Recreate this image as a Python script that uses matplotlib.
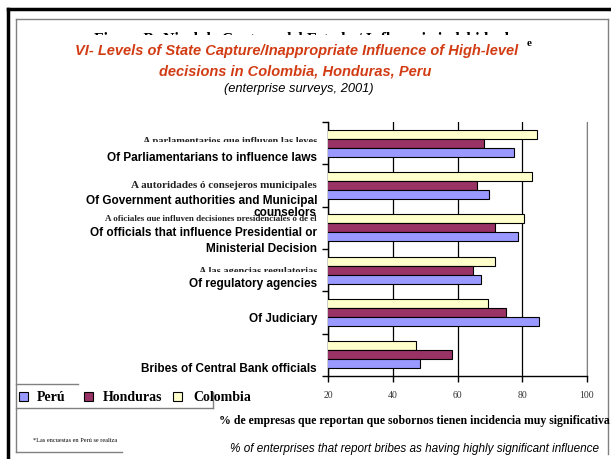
import matplotlib
matplotlib.use("Agg")
import matplotlib.pyplot as plt
from matplotlib.patches import Rectangle
from matplotlib.lines import Line2D

W, H = 611, 460

# data (top category first)
categories_en = [
    "Of Parliamentarians to influence laws",
    "Of Government authorities and Municipal\ncounselors",
    "Of officials that influence Presidential or\nMinisterial Decision",
    "Of regulatory agencies",
    "Of Judiciary",
    "Bribes of Central Bank officials",
]
categories_es = [
    "A parlamentarios que influyen las leyes",
    "A autoridades ó consejeros municipales",
    "A oficiales que influyen decisiones presidenciales ó de el",
    "A las agencias regulatorias",
    "",
    "",
]
colombia = [84.7, 82.9, 80.6, 71.6, 69.5, 47.1]
honduras = [68.2, 66.1, 71.6, 64.7, 75.0, 58.3]
peru = [77.3, 69.8, 78.7, 67.3, 85.1, 48.5]
series = ["Perú", "Honduras", "Colombia"]
colors = {"Perú": "#9999FF", "Honduras": "#993366", "Colombia": "#FFFFCC"}
xticks = [20, 40, 60, 80, 100]

fig = plt.figure(figsize=(W / 100, H / 100), dpi=100)


def fx(px):
    return px / W


def fy(py):
    return 1 - py / H


def line(x0, y0, x1, y1, color="#808080", lw=1.0):
    fig.add_artist(Line2D([fx(x0), fx(x1)], [fy(y0), fy(y1)], color=color, lw=lw,
                          transform=fig.transFigure))


# slide frames
line(8, 10, 611, 10, color="black", lw=2.5)
line(8, 10, 8, 460, color="black", lw=2.5)
line(16, 20, 608, 20)
line(16, 20, 16, 453)
line(608, 20, 608, 455)
# legend / footnote boxes
line(16, 385, 78, 385)
line(16, 409, 213, 409)
line(213, 393, 213, 409)
line(16, 453, 122, 453)

# half-hidden spanish header behind the title
hdr = fig.text(fx(305), fy(40), "Figura B: Nivel de Captura del Estado / Influencia indebida de",
               ha="center", va="center", fontsize=11.3, fontweight="bold",
               family="Liberation Serif")
hdr.set_clip_path(Rectangle((0, fy(36)), 1, 1, transform=fig.transFigure))
fig.text(fx(529), fy(43), "e", fontsize=8, fontweight="bold", family="Liberation Serif",
         ha="center", va="center")

title_kw = dict(ha="center", va="center", fontsize=10.5, fontweight="bold", style="italic",
                color="#D23C14", family="Liberation Sans")
fig.text(fx(297), fy(51), "VI- Levels of State Capture/Inappropriate Influence of High-level", **title_kw)
fig.text(fx(295), fy(72), "decisions in Colombia, Honduras, Peru", **title_kw)
fig.text(fx(299), fy(89), "(enterprise surveys, 2001)", ha="center", va="center", fontsize=9.3,
         style="italic", family="Liberation Sans")

# axes
ax = fig.add_axes([fx(328), fy(377), fx(587) - fx(328), fy(123) - fy(377)])
h = 0.213
ypos = list(range(len(categories_en)))
ax.barh([y - h for y in ypos], colombia, height=h, color=colors["Colombia"],
        edgecolor="black", linewidth=0.8, zorder=3)
ax.barh(ypos, honduras, height=h, color=colors["Honduras"], edgecolor="black",
        linewidth=0.8, zorder=3)
ax.barh([y + h for y in ypos], peru, height=h, color=colors["Perú"], edgecolor="black",
        linewidth=0.8, zorder=3)
ax.set_xlim(20, 100)
ax.set_ylim(5.5, -0.5)
ax.set_xticks(xticks)
ax.set_xticklabels([str(t) for t in xticks], family="Liberation Serif", fontsize=7, color="#333333")
ax.set_yticks([b - 0.5 for b in range(len(categories_en) + 1)])
ax.set_yticklabels([])
ax.tick_params(axis="y", length=4, width=1, direction="out")
ax.tick_params(axis="x", length=4, width=1, direction="out", pad=6)
ax.grid(axis="x", color="black", lw=0.9, zorder=0)
ax.spines["top"].set_visible(False)
ax.spines["right"].set_color("#808080")
ax.spines["left"].set_linewidth(1.0)
ax.spines["bottom"].set_linewidth(1.0)

# category labels (english over the half-hidden spanish ones)
es_pos = [(142, 138, 143, 7.5), (186, 0, 0, 8), (219, 214, 222, 6.5), (272, 267, 273, 7.5)]
for s, (py, c0, c1, fs) in zip(categories_es, es_pos):
    t = fig.text(fx(317), fy(py), s, ha="right", va="center", fontsize=fs, fontweight="bold",
                 family="Liberation Serif", color="#222222")
    if c1:
        t.set_clip_path(Rectangle((0, fy(c1)), 1, fy(c0) - fy(c1), transform=fig.transFigure))

en_lines = [
    ("Of Parliamentarians to influence laws", 158),
    ("Of Government authorities and Municipal", 201),
    ("counselors", 213),
    ("Of officials that influence Presidential or", 233),
    ("Ministerial Decision", 249),
    ("Of regulatory agencies", 284),
    ("Of Judiciary", 319),
    ("Bribes of Central Bank officials", 369),
]
for s, py in en_lines:
    fig.text(fx(317), fy(py), s, ha="right", va="center", fontsize=8.5, fontweight="bold",
             family="Liberation Sans")

# legend
leg_x = [(23, 37), (88, 103), (177, 193)]
for name, (sx, tx) in zip(series, leg_x):
    fig.add_artist(Rectangle((fx(sx - 4), fy(402)), fx(9), 9 / H, facecolor=colors[name],
                             edgecolor="black", lw=0.8, transform=fig.transFigure))
    fig.text(fx(tx), fy(398), name, ha="left", va="center", fontsize=10, fontweight="bold",
             family="Liberation Serif")

# bottom texts
fig.text(fx(414), fy(421), "% de empresas que reportan que sobornos tienen incidencia muy significativa",
         ha="center", va="center", fontsize=8.5, fontweight="bold", family="Liberation Serif")
fig.text(fx(415), fy(449), "% of enterprises that report bribes as having highly significant influence",
         ha="center", va="center", fontsize=8.5, style="italic", family="Liberation Sans")
fig.text(fx(75), fy(441), "*Las encuestas en Perú se realiza", ha="center", va="center",
         fontsize=4.5, family="Liberation Serif")

fig.savefig("out.png", dpi=100)
